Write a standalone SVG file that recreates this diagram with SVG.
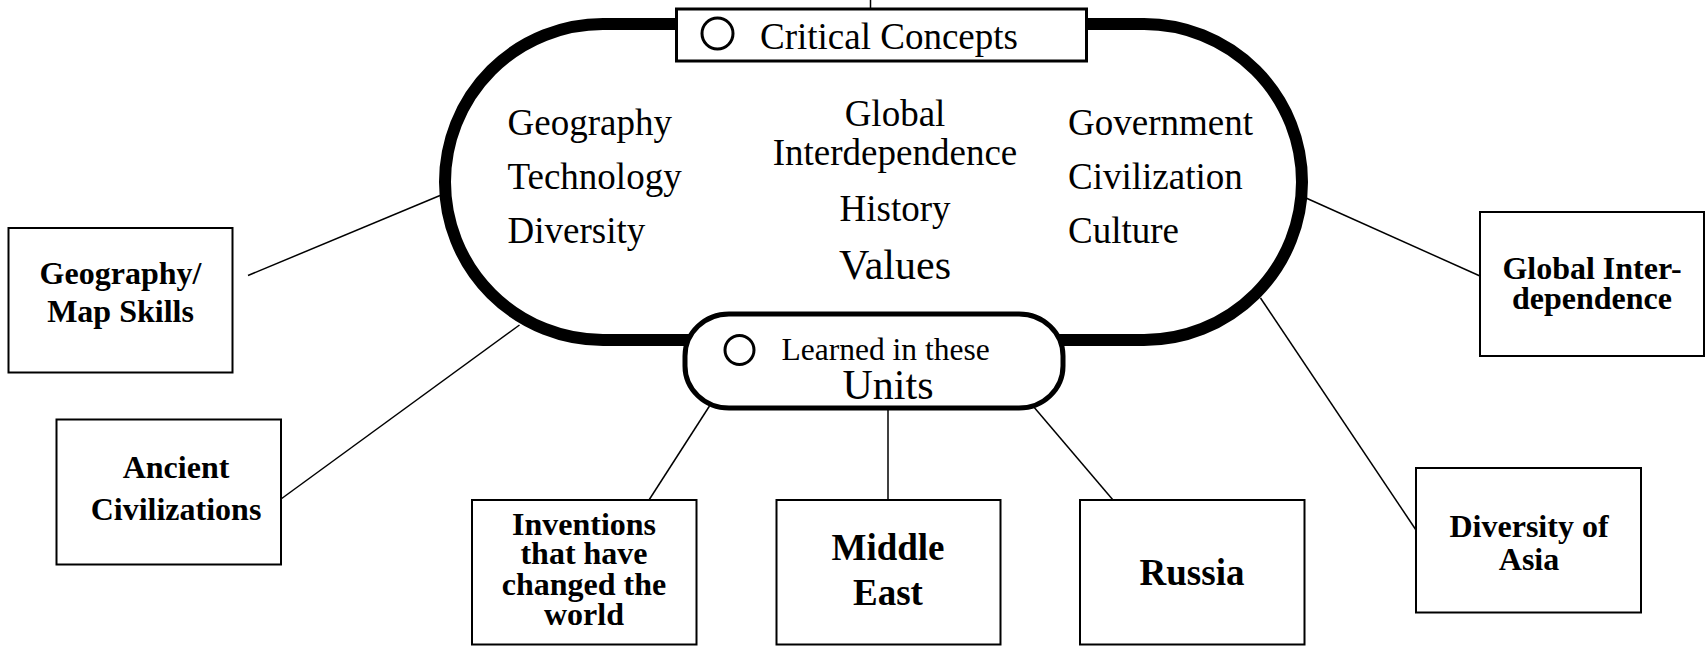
<svg xmlns="http://www.w3.org/2000/svg" width="1705" height="646" viewBox="0 0 1705 646">
<style>
.bg{fill:#fff}
.box{fill:#fff;stroke:#000;stroke-width:2}
.con{stroke:#000;stroke-width:1.5;fill:none}
.t{font-family:"Liberation Serif","Times New Roman",serif;fill:#000}
.c{font-size:37px}
.b{font-family:"Liberation Serif","Times New Roman",serif;font-weight:bold;fill:#000;text-anchor:middle}
.mark{fill:none;stroke:#000;stroke-width:3}
</style>
<rect class="bg" x="0" y="0" width="1705" height="646"/>
<g id="connectors">
<line class="con" x1="870.5" y1="0" x2="870.5" y2="8"/>
<line class="con" x1="248" y1="275.5" x2="440" y2="195.5"/>
<line class="con" x1="281" y1="499" x2="519.5" y2="325"/>
<line class="con" x1="709.5" y1="406" x2="649" y2="500"/>
<line class="con" x1="888" y1="403" x2="888" y2="500"/>
<line class="con" x1="1033" y1="406" x2="1113" y2="500"/>
<line class="con" x1="1306" y1="198" x2="1480" y2="276"/>
<line class="con" x1="1260.5" y1="298" x2="1416" y2="530"/>
</g>
<g id="critical-concepts">
<rect x="445" y="24" width="857" height="316" rx="158" ry="158" fill="#fff" stroke="#000" stroke-width="12"/>
<rect x="676.5" y="9" width="410" height="52" fill="#fff" stroke="#000" stroke-width="3"/>
<circle class="mark" cx="717.5" cy="33.5" r="15.5"/>
<text class="t" x="760" y="49" font-size="37">Critical Concepts</text>
<text class="t c" x="507.5" y="135">Geography</text>
<text class="t c" x="507.5" y="188.5">Technology</text>
<text class="t c" x="507.5" y="243">Diversity</text>
<text class="t c" x="895" y="126" text-anchor="middle">Global</text>
<text class="t c" x="895" y="165" text-anchor="middle">Interdependence</text>
<text class="t c" x="895" y="221" text-anchor="middle">History</text>
<text class="t" x="895" y="279" text-anchor="middle" font-size="42">Values</text>
<text class="t c" x="1068" y="134.5">Government</text>
<text class="t c" x="1068" y="188.5">Civilization</text>
<text class="t c" x="1068" y="242.5">Culture</text>
</g>
<g id="learned-units">
<rect x="685" y="314" width="378" height="94" rx="44" ry="42" fill="#fff" stroke="#000" stroke-width="5"/>
<circle class="mark" cx="739.5" cy="350" r="14.5"/>
<text class="t" x="781.5" y="360" font-size="31.5">Learned in these</text>
<text class="t" x="842.5" y="398.5" font-size="42">Units</text>
</g>
<g id="geography-map-skills">
<rect class="box" x="8.5" y="228" width="224" height="144.5"/>
<text class="b" x="120.5" y="283.5" font-size="32">Geography/</text>
<text class="b" x="120.5" y="321.5" font-size="32">Map Skills</text>
</g>
<g id="ancient-civilizations">
<rect class="box" x="56.5" y="419.5" width="224.5" height="145"/>
<text class="b" x="176" y="477.5" font-size="32">Ancient</text>
<text class="b" x="176" y="520" font-size="32">Civilizations</text>
</g>
<g id="inventions">
<rect class="box" x="472" y="500" width="224.5" height="144.5"/>
<text class="b" x="584" y="535" font-size="32">Inventions</text>
<text class="b" x="584" y="564" font-size="32">that have</text>
<text class="b" x="584" y="594.5" font-size="32">changed the</text>
<text class="b" x="584" y="625" font-size="32">world</text>
</g>
<g id="middle-east">
<rect class="box" x="776.5" y="500" width="224" height="144.5"/>
<text class="b" x="888" y="560" font-size="37">Middle</text>
<text class="b" x="888" y="605" font-size="37">East</text>
</g>
<g id="russia">
<rect class="box" x="1080" y="500" width="224.5" height="144.5"/>
<text class="b" x="1192" y="585" font-size="37">Russia</text>
</g>
<g id="global-interdependence">
<rect class="box" x="1480" y="212" width="224" height="144"/>
<text class="b" x="1592" y="278.5" font-size="32">Global Inter-</text>
<text class="b" x="1592" y="308.5" font-size="32">dependence</text>
</g>
<g id="diversity-of-asia">
<rect class="box" x="1416" y="468" width="225" height="144.5"/>
<text class="b" x="1529" y="536.5" font-size="32">Diversity of</text>
<text class="b" x="1529" y="570" font-size="32">Asia</text>
</g>
</svg>
